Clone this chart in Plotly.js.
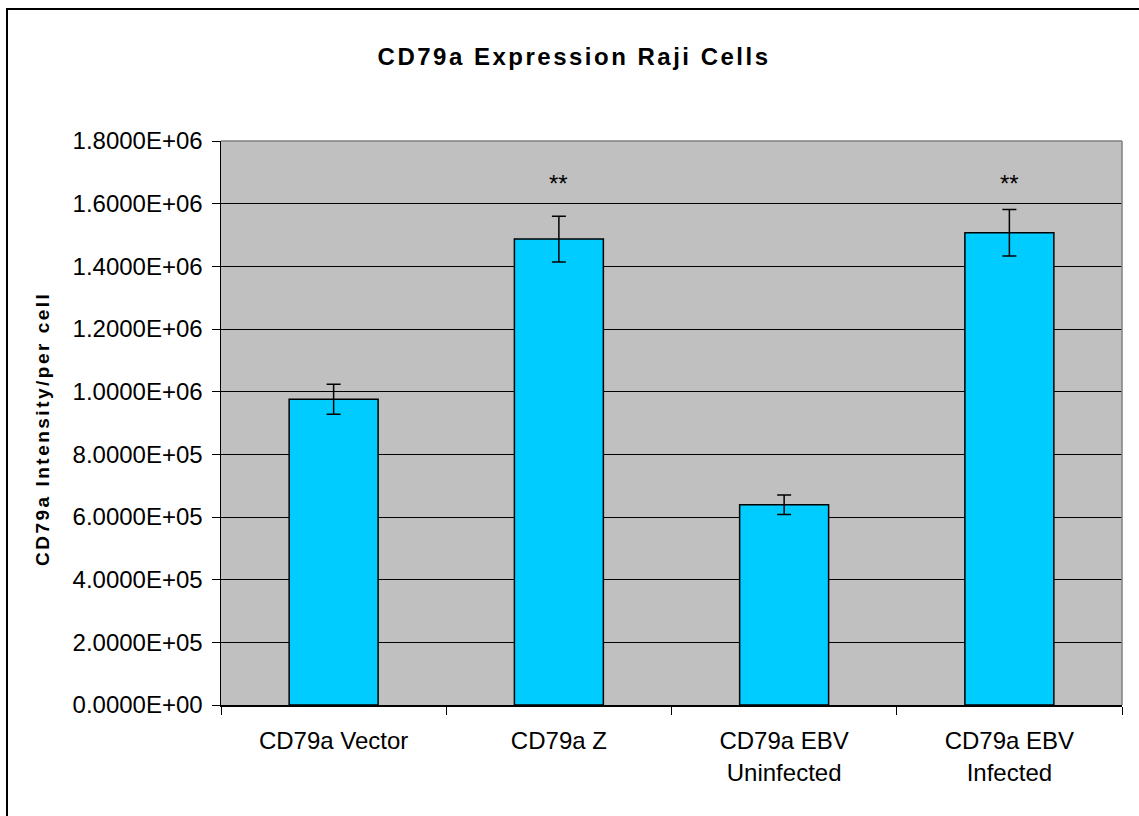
<!DOCTYPE html>
<html>
<head>
<meta charset="utf-8">
<script src="https://cdn.plot.ly/plotly-3.0.1.min.js"></script>
<style>
  html, body { margin: 0; padding: 0; background: #fff; }
  #wrap { position: relative; width: 1139px; height: 816px; }
  #chart { width: 1139px; height: 816px; }
  #frame { position: absolute; left: 6px; top: 8px; width: 1140px; height: 830px;
           border: 2px solid #000; box-sizing: border-box; pointer-events: none; }
  .gtitle { letter-spacing: 2.5px; }
</style>
</head>
<body>
<div id="wrap">
  <div id="chart"></div>
  <div id="frame"></div>
</div>
<script>
// ---- data ----
const categories = ["CD79a Vector", "CD79a Z", "CD79a EBV<br>Uninfected", "CD79a EBV<br>Infected"];
const values = [976000, 1487000, 639000, 1507000];
const errors = [48000, 73000, 31000, 74000];
const significance = ["", "**", "", "**"];
const yTickVals = [0, 200000, 400000, 600000, 800000, 1000000, 1200000, 1400000, 1600000, 1800000];
const yTickText = ["0.0000E+00", "2.0000E+05", "4.0000E+05", "6.0000E+05", "8.0000E+05",
                   "1.0000E+06", "1.2000E+06", "1.4000E+06", "1.6000E+06", "1.8000E+06"];

const font = "Liberation Sans, Arial, sans-serif";

const trace = {
  type: "bar",
  x: categories,
  y: values,
  width: 0.395,
  marker: { color: "#00CCFF", line: { color: "#000000", width: 1.5 } },
  error_y: { type: "data", array: errors, visible: true, color: "#000000", thickness: 1.5, width: 7 },
  hoverinfo: "skip"
};

const annotations = [];
categories.forEach((c, i) => {
  if (significance[i]) {
    annotations.push({
      x: c, y: 1665000, xref: "x", yref: "y",
      text: significance[i], showarrow: false,
      font: { family: font, size: 24, color: "#000" },
      xanchor: "center", yanchor: "middle"
    });
  }
});
annotations.push({
  xref: "paper", yref: "paper", x: 0, y: 0.5, xshift: -179, yshift: -6,
  text: "<b>CD79a Intensity/per cell</b>", textangle: -90, showarrow: false,
  font: { family: font, size: 19, color: "#000" },
  xanchor: "center", yanchor: "middle"
});

const layout = {
  width: 1139, height: 816,
  margin: { l: 221, r: 17, t: 141, b: 111, pad: 0 },
  paper_bgcolor: "#ffffff",
  plot_bgcolor: "#C0C0C0",
  showlegend: false,
  title: {
    text: "<b>CD79a Expression Raji Cells</b>",
    font: { family: font, size: 24, color: "#000" },
    x: 0.504, xref: "container", xanchor: "center",
    y: 1 - 57 / 816, yref: "container", yanchor: "middle"
  },
  xaxis: {
    type: "category",
    showline: true, linecolor: "#000", linewidth: 1.5,
    ticks: "outside", tickson: "boundaries", ticklen: 8, tickcolor: "#000", tickwidth: 1,
    showgrid: false,
    tickfont: { family: font, size: 24, color: "#000" },
    ticklabelstandoff: 14
  },
  yaxis: {
    range: [0, 1800000],
    tickvals: yTickVals, ticktext: yTickText,
    showline: true, linecolor: "#000", linewidth: 1.5,
    ticks: "outside", ticklen: 8, tickcolor: "#000", tickwidth: 1,
    showgrid: true, gridcolor: "#000", gridwidth: 1,
    zeroline: false,
    tickfont: { family: font, size: 24, color: "#000" },
    ticklabelstandoff: 4
  },
  shapes: [
    { type: "line", xref: "paper", yref: "paper", x0: 0, x1: 1, y0: 1, y1: 1, line: { color: "#808080", width: 1.5 } },
    { type: "line", xref: "paper", yref: "paper", x0: 1, x1: 1, y0: 0, y1: 1, line: { color: "#808080", width: 1.5 } }
  ],
  annotations: annotations
};

Plotly.newPlot("chart", [trace], layout, { displayModeBar: false, staticPlot: true }).then(() => {
  document.querySelectorAll(".annotation-text").forEach(t => {
    if (t.textContent.indexOf("Intensity") >= 0) t.style.letterSpacing = "2.5px";
  });
});
</script>
</body>
</html>
